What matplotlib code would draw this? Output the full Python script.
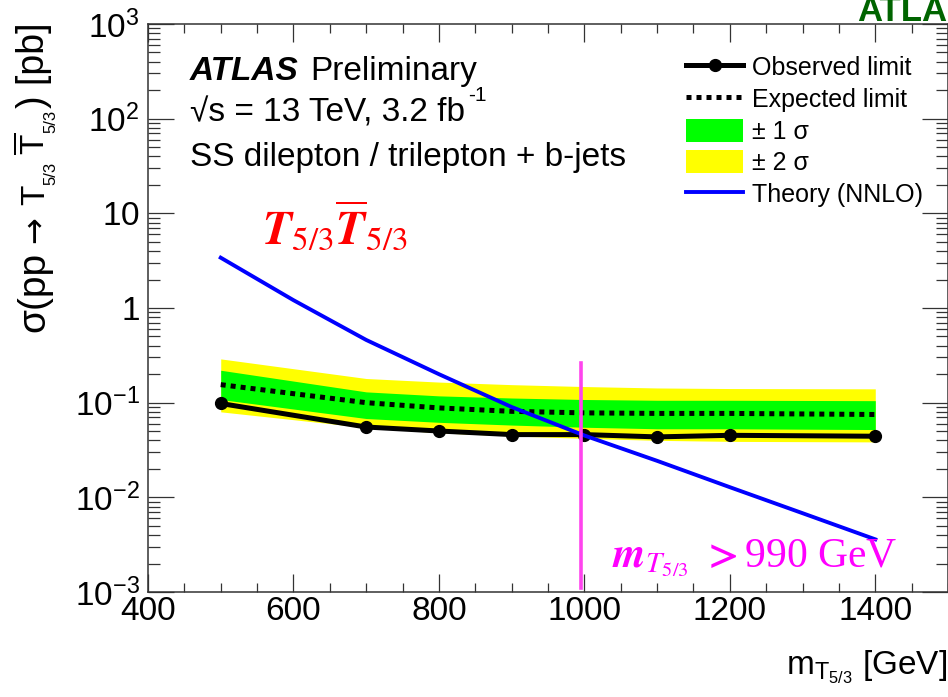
import matplotlib
matplotlib.use("Agg")
import matplotlib.pyplot as plt
import numpy as np
from matplotlib.lines import Line2D
from matplotlib.patches import Patch

plt.rcParams['font.family'] = ['Liberation Sans', 'DejaVu Sans']
plt.rcParams['mathtext.fontset'] = 'custom'
plt.rcParams['mathtext.rm'] = 'Liberation Sans'
plt.rcParams['mathtext.it'] = 'Liberation Sans:italic'
plt.rcParams['mathtext.bf'] = 'Liberation Sans:bold'

# limit values
mass = [500, 700, 800, 900, 1000, 1100, 1200, 1400]
observed = [0.098, 0.0553, 0.0502, 0.046, 0.046, 0.0435, 0.0452, 0.0442]
expected = [0.155, 0.100, 0.088, 0.081, 0.078, 0.077, 0.077, 0.075]
one_sig_up = [0.22, 0.130, 0.118, 0.112, 0.108, 0.106, 0.106, 0.105]
one_sig_dn = [0.108, 0.068, 0.062, 0.058, 0.055, 0.053, 0.053, 0.052]
two_sig_up = [0.29, 0.18, 0.165, 0.155, 0.148, 0.143, 0.141, 0.140]
two_sig_dn = [0.080, 0.0546, 0.048, 0.0445, 0.042, 0.040, 0.039, 0.0385]

theory_mass = [500, 600, 700, 800, 900, 1000, 1100, 1200, 1300, 1400]
theory = [3.4, 1.21, 0.46, 0.20, 0.090, 0.045, 0.0243, 0.0128, 0.0068, 0.0036]

mass_limit = 995
limit_line_range = [0.00109, 0.26]

ytick_vals = [1e-3, 1e-2, 1e-1, 1, 10, 1e2, 1e3]
ytick_labels = [r'$10^{-3}$', r'$10^{-2}$', r'$10^{-1}$', r'$1$', r'$10$', r'$10^{2}$', r'$10^{3}$']

W, H = 948, 697
fig = plt.figure(figsize=(W/100, H/100), dpi=100)
ax = fig.add_axes([148/W, 1-592/H, 1-148/W, (592-24)/H])

ax.fill_between(mass, two_sig_dn, two_sig_up, color='#ffff00', lw=0, zorder=1)
ax.fill_between(mass, one_sig_dn, one_sig_up, color='#00ff00', lw=0, zorder=2)
ax.plot(mass, expected, color='black', lw=3.6, ls=(0, (1, 1)), dash_capstyle='butt', zorder=3)
ax.plot(mass, observed, color='black', lw=3.6, marker='o', ms=8.5, zorder=4)
ax.plot(theory_mass, theory, color='#0000ff', lw=2.8, zorder=5)
ax.plot([mass_limit, mass_limit], limit_line_range, color='#ff44ee', lw=2.6, zorder=6)

ax.set_yscale('log')
ax.set_xlim(400, 1500)
ax.set_ylim(1e-3, 1e3)
ax.set_xticks(np.arange(400, 1401, 200))
ax.set_xticks(np.arange(400, 1501, 50), minor=True)
ax.set_yticks(ytick_vals)
ax.set_yticklabels(ytick_labels)

for s in ax.spines.values():
    s.set_linewidth(1.1)
    s.set_color('#333333')
ax.tick_params(axis='both', which='both', direction='in', top=True, right=True,
               color='#333333', width=0.9)
ax.tick_params(axis='x', which='major', length=13, labelsize=24, pad=3)
ax.tick_params(axis='x', which='minor', length=6.5)
ax.tick_params(axis='y', which='major', length=18.5, labelsize=24, pad=6)
ax.tick_params(axis='y', which='minor', length=8.5)
ax.yaxis.set_minor_locator(matplotlib.ticker.LogLocator(base=10, subs=np.arange(2, 10)))
ax.yaxis.set_minor_formatter(matplotlib.ticker.NullFormatter())


def px(x, y):
    return x / W, 1 - y / H


# y title, built from pieces running upwards (ROOT style small subscripts)
def ypiece(s, x, y, size, **kw):
    fig.text(*px(x, y), s, rotation=90, rotation_mode='anchor', ha='left',
             va='baseline', fontsize=size, **kw)


ypiece('σ(pp', 44, 332, 28)
ypiece('→', 44, 243, 23, family='DejaVu Sans')
ypiece('T', 44, 205, 24)
ypiece('5/3', 55, 185, 12)
ypiece(r'$\overline{\mathrm{T}}$', 44, 155, 24)
ypiece('5/3', 55, 133, 12)
ypiece(') [pb]', 44, 108, 27)

# x title
fig.text(0.999, 1-675/H, r'm$_{\mathrm{T}_{5/3}}$ [GeV]', ha='right', va='baseline', fontsize=24)

# labels
fig.text(*px(190, 80), 'ATLAS', fontsize=24, fontweight='bold', fontstyle='italic', va='baseline')
fig.text(*px(310, 80), 'Preliminary', fontsize=24, va='baseline')
fig.text(*px(190, 122), '√s = 13 TeV, 3.2 fb', fontsize=24, va='baseline')
fig.text(*px(468, 101), '-1', fontsize=15, va='baseline')
fig.text(*px(190, 166), 'SS dilepton / trilepton + b-jets', fontsize=24, va='baseline')

fig.text(*px(262, 245), r'$\mathbfit{T}_{5/3}\overline{\mathbfit{T}}_{5/3}$', color='red',
         fontsize=34, va='baseline', math_fontfamily='stix')
fig.text(*px(612, 567), r'$\mathbfit{m}_{T_{5/3}}\ \mathbf{>}$990 GeV', color='#ff00ff',
         fontsize=30, va='baseline', math_fontfamily='stix', family='Liberation Serif')

fig.text(*px(857, 21), 'ATLAS', color='#006400', fontsize=25, fontweight='bold', va='baseline')

handles = [
    Line2D([], [], color='black', lw=3.6, marker='o', ms=8.5),
    Line2D([], [], color='black', lw=3.6, ls=(0, (1, 1)), dash_capstyle='butt'),
    Patch(facecolor='#00ff00', edgecolor='none'),
    Patch(facecolor='#ffff00', edgecolor='none'),
    Line2D([], [], color='#0000ff', lw=2.8),
]
labels = ['Observed limit', 'Expected limit', '± 1 σ', '± 2 σ', 'Theory (NNLO)']
ax.legend(handles, labels, loc='upper left', bbox_to_anchor=px(686, 55),
          bbox_transform=fig.transFigure, frameon=False, fontsize=18, numpoints=1,
          handlelength=2.28, handleheight=1.04, handletextpad=0.36, labelspacing=0.27,
          borderpad=0, borderaxespad=0)

fig.savefig('out.png', dpi=100)
